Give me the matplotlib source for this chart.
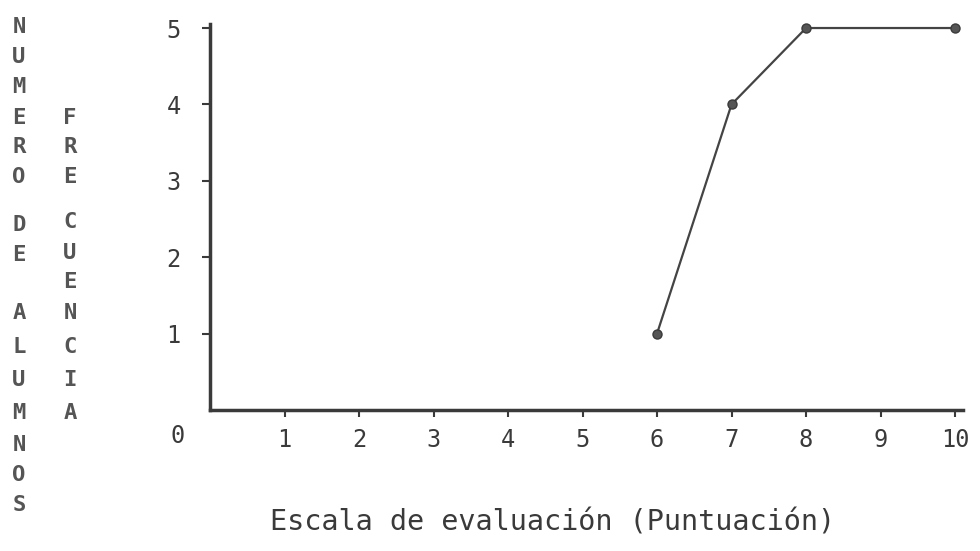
import matplotlib.pyplot as plt

# datos
puntuacion = [6, 7, 8, 10]
frecuencia = [1, 4, 5, 5]
xticks = [1, 2, 3, 4, 5, 6, 7, 8, 9, 10]
yticks = [1, 2, 3, 4, 5]

ink = '#3a3a3a'
fuente = 'DejaVu Sans Mono'

W, H = 980, 551
fig = plt.figure(figsize=(W / 100, H / 100), dpi=100)
ax = fig.add_axes([210 / W, 1 - 410 / H, 752.5 / W, 385.8 / H])

ax.plot(puntuacion, frecuencia, color='#444444', lw=1.6, marker='o', ms=6.5,
        mfc='#555555', mec=ink, clip_on=False)

ax.set_xlim(0, 10.1)
ax.set_ylim(0, 5.05)
ax.set_xticks(xticks)
ax.set_yticks(yticks)
ax.set_xticklabels([str(v) for v in xticks], fontfamily=fuente, fontsize=17, color=ink)
ax.set_yticklabels([str(v) for v in yticks], fontfamily=fuente, fontsize=17, color=ink)
ax.tick_params(axis='x', direction='out', length=5, width=1.5, color=ink, pad=8)
ax.tick_params(axis='y', direction='out', length=6, width=1.5, color=ink, pad=15)

for s in ['top', 'right']:
    ax.spines[s].set_visible(False)
for s in ['left', 'bottom']:
    ax.spines[s].set_color(ink)
    ax.spines[s].set_linewidth(2.5)

# el cero del origen
fig.text(178 / W, 1 - 436 / H, '0', fontfamily=fuente, fontsize=17, color=ink,
         ha='center', va='center')

# titulo del eje x
fig.text(553 / W, 1 - 523 / H, 'Escala de evaluación (Puntuación)', fontfamily=fuente,
         fontsize=20.5, color=ink, ha='center', va='center')

# titulos verticales, letra por letra
col1 = 'NUMERODEALUMNOS'
y1 = [27, 57, 87, 118, 147, 177, 225, 255, 313, 347, 380, 413, 445, 475, 505]
for letra, y in zip(col1, y1):
    fig.text(19 / W, 1 - y / H, letra, fontfamily=fuente, fontsize=16, fontweight='bold',
             color='#555555', ha='center', va='center')

col2 = 'FRECUENCIA'
y2 = [118, 147, 177, 222, 253, 282, 313, 347, 380, 413]
for letra, y in zip(col2, y2):
    fig.text(70 / W, 1 - y / H, letra, fontfamily=fuente, fontsize=16, fontweight='bold',
             color='#555555', ha='center', va='center')

fig.savefig('out.png', dpi=100)
